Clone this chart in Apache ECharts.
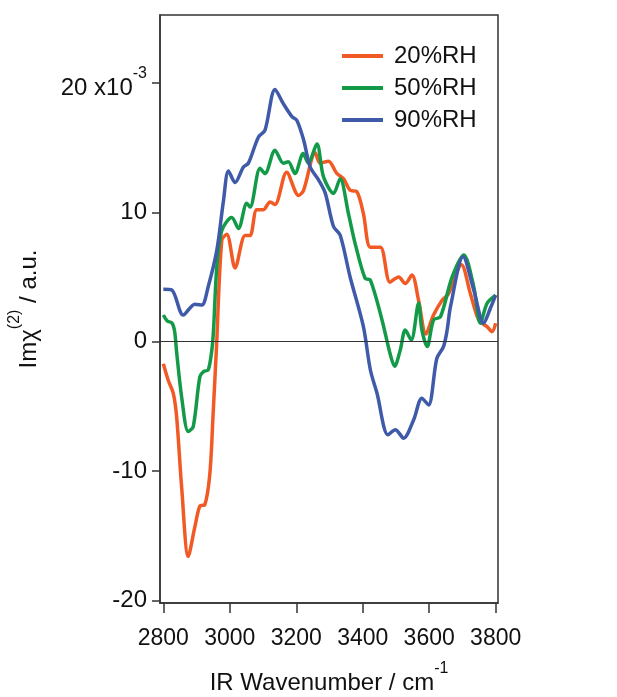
<!DOCTYPE html>
<html>
<head>
<meta charset="utf-8">
<script src="https://cdn.jsdelivr.net/npm/echarts@6/dist/echarts.min.js"></script>
<style>
  html, body { margin: 0; padding: 0; background: #fff; }
  #chart { width: 617px; height: 697px; }
</style>
</head>
<body>
<div id="chart"></div>
<script>
// wavenumbers (cm-1) and Im chi(2) values (x10^-3)
const wn20 = [2800, 2815, 2830, 2840, 2855, 2875, 2895, 2910, 2925, 2940, 2950, 2960, 2976, 2991, 3016, 3046, 3061, 3081, 3101, 3121, 3136, 3171, 3207, 3222, 3257, 3272, 3297, 3322, 3342, 3362, 3382, 3402, 3423, 3453, 3482, 3508, 3528, 3548, 3568, 3590, 3613, 3639, 3658, 3697, 3724, 3749, 3774, 3789, 3800];
const im20 = [-1.7, -3.0, -4.0, -5.8, -11.2, -16.6, -14.3, -12.7, -12.6, -10.2, -5.5, -0.4, 7.85, 8.3, 5.7, 8.2, 8.2, 10.2, 10.2, 10.8, 10.6, 13.1, 11.3, 11.7, 14.6, 13.8, 13.95, 13.0, 12.6, 11.7, 11.6, 9.9, 7.3, 7.3, 4.6, 5.0, 4.5, 5.15, 3.2, 0.6, 2.06, 3.2, 3.7, 5.95, 3.7, 1.68, 1.16, 0.77, 1.42];

const wn50 = [2800, 2812, 2826, 2834, 2840, 2855, 2875, 2890, 2910, 2922, 2935, 2946, 2951, 2961, 2976, 3006, 3026, 3051, 3061, 3091, 3106, 3136, 3161, 3176, 3196, 3221, 3236, 3262, 3282, 3312, 3332, 3357, 3377, 3407, 3423, 3458, 3482, 3496, 3513, 3528, 3546, 3568, 3578, 3594, 3613, 3634, 3669, 3704, 3734, 3754, 3774, 3800];
const im50 = [2.06, 1.6, 1.45, 0.8, -0.8, -4.25, -6.95, -6.56, -2.7, -2.3, -2.19, -0.64, 0.9, 5.8, 8.6, 9.6, 8.75, 10.7, 10.4, 13.4, 13.0, 14.8, 13.8, 13.9, 13.0, 14.55, 13.8, 15.27, 12.74, 11.46, 12.6, 9.9, 7.6, 4.9, 4.76, 1.68, -0.9, -1.9, -0.64, 0.9, 0.13, 2.96, 0.9, -0.38, 1.68, 1.93, 5.0, 6.7, 4.25, 1.42, 2.96, 3.6];

const wn90 = [2800, 2825, 2860, 2895, 2916, 2935, 2961, 2981, 2996, 3016, 3041, 3056, 3086, 3106, 3136, 3161, 3187, 3202, 3222, 3242, 3267, 3287, 3312, 3332, 3362, 3402, 3423, 3443, 3476, 3498, 3523, 3553, 3578, 3598, 3623, 3643, 3654, 3664, 3702, 3734, 3764, 3784, 3800];
const im90 = [4.05, 4.0, 2.06, 2.9, 2.83, 4.25, 7.08, 10.9, 13.2, 12.3, 13.5, 13.8, 15.8, 16.35, 19.5, 18.4, 17.4, 17.1, 15.6, 13.5, 12.5, 11.5, 8.9, 8.24, 5.0, 1.16, -2.19, -3.99, -7.2, -6.8, -7.46, -6.05, -4.37, -4.89, -1.28, -0.38, 0.9, 2.7, 6.56, 4.0, 1.42, 2.58, 3.6];

const seriesNames = ['20%RH', '50%RH', '90%RH'];
const seriesColors = ['#f15a24', '#139a48', '#3f5aa8'];
const xTicks = [2800, 3000, 3200, 3400, 3600, 3800];
const yTicks = [-20, -10, 0, 10, 20];

const font = '"Liberation Sans", Arial, sans-serif';

function pairs(xs, ys) {
  return xs.map((x, i) => [x, ys[i]]);
}

const chart = echarts.init(document.getElementById('chart'));

// n: normal text (pushed down a bit), s: superscript (raised by bottom padding)
const nameRich = {
  n: { fontSize: 24, fontFamily: font, color: '#111', lineHeight: 24, padding: [10, 0, 0, 0] },
  s: { fontSize: 16, fontFamily: font, color: '#111', lineHeight: 16, padding: [0, 0, 19, 0] }
};
const tickRich = {
  n: { fontSize: 24, fontFamily: font, color: '#111', lineHeight: 24 },
  m: { fontSize: 24, fontFamily: font, color: '#111', lineHeight: 24, padding: [11, 0, 0, 0] },
  t: { fontSize: 16, fontFamily: font, color: '#111', lineHeight: 16, padding: [0, 0, 18, 0] }
};

const seriesData = [pairs(wn20, im20), pairs(wn50, im50), pairs(wn90, im90)];

chart.setOption({
  animation: false,
  backgroundColor: '#fff',
  grid: {
    left: 160,
    right: 119,
    top: 15,
    bottom: 94,
    show: true,
    borderColor: '#333',
    borderWidth: 1.5,
    containLabel: false,
    outerBoundsMode: 'none'
  },
  legend: {
    orient: 'vertical',
    left: 342,
    top: 44,
    padding: 0,
    itemGap: 8,
    itemWidth: 41,
    itemHeight: 4,
    icon: 'rect',
    data: seriesNames,
    textStyle: {
      fontSize: 24,
      fontFamily: font,
      color: '#111',
      padding: [0, 0, 0, 6]
    }
  },
  // x-axis title drawn as graphic text so it can sit lower than the axis-name layout allows
  graphic: [{
    type: 'text',
    x: 329,
    y: 678,
    silent: true,
    style: {
      text: '{n|IR Wavenumber / cm}{s|-1}',
      rich: nameRich,
      align: 'center',
      verticalAlign: 'middle',
      fill: '#111'
    }
  }],
  xAxis: {
    type: 'value',
    min: 2790,
    max: 3807,
    axisLine: { show: true, onZero: false, lineStyle: { color: '#333', width: 1.5 } },
    axisTick: { show: true, inside: false, length: 10, customValues: xTicks, lineStyle: { color: '#333', width: 1.5 } },
    axisLabel: {
      customValues: xTicks,
      margin: 24,
      fontSize: 23,
      fontFamily: font,
      color: '#111',
      formatter: (v) => String(v)
    },
    splitLine: { show: false }
  },
  yAxis: {
    type: 'value',
    min: -20.2,
    max: 25.25,
    name: '{n|Im\u03c7}{s|(2)}{n| / a.u.}',
    nameLocation: 'middle',
    nameGap: 124,
    nameMoveOverlap: false,
    nameTextStyle: { rich: nameRich },
    axisLine: { show: true, onZero: false, lineStyle: { color: '#333', width: 1.5 } },
    axisTick: { show: true, inside: false, length: 8, customValues: yTicks, lineStyle: { color: '#333', width: 1.5 } },
    axisLabel: {
      customValues: yTicks,
      margin: 13,
      formatter: (v) => (v === 20 ? '{m|20 x10}{t|-3}' : '{n|' + v + '}'),
      rich: tickRich
    },
    splitLine: { show: false }
  },
  series: seriesNames.map((name, i) => ({
    name: name,
    type: 'line',
    data: seriesData[i],
    showSymbol: false,
    smooth: 0.3,
    color: seriesColors[i],
    lineStyle: { color: seriesColors[i], width: 3.5 },
    markLine: i === 0 ? {
      silent: true,
      symbol: ['none', 'none'],
      label: { show: false },
      lineStyle: { color: '#333', width: 1.2, type: 'solid' },
      data: [{ yAxis: 0 }]
    } : undefined
  }))
});
</script>
</body>
</html>
